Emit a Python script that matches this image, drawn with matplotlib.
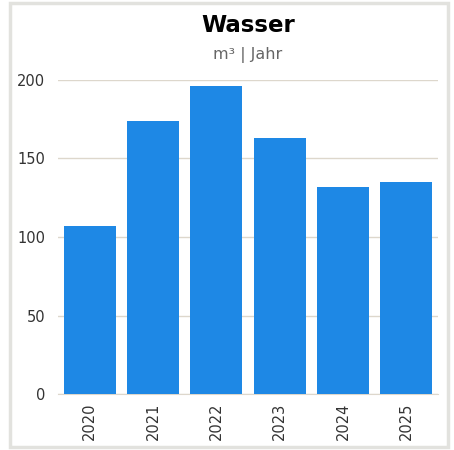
import matplotlib.pyplot as plt
from matplotlib.patches import Rectangle

years = ['2020', '2021', '2022', '2023', '2024', '2025']
water = [107, 174, 196, 163, 132, 135]
yticks = [0, 50, 100, 150, 200]

fig = plt.figure(figsize=(4.54, 4.50), dpi=100)

# light grey frame round the card
fig.patches.append(Rectangle((10/454, 3/450), 438/454, 444/450, transform=fig.transFigure,
                             fill=False, edgecolor='#e2e2de', linewidth=2.5))

ax = fig.add_axes([58/454, 1 - 394/450, 380/454, 314/450])
ax.bar(range(len(years)), water, width=0.82, color='#1e88e5', zorder=3)
ax.set_xlim(-0.5, len(years) - 0.5)
ax.set_ylim(0, 200)
ax.set_yticks(yticks)
ax.set_xticks(range(len(years)))
ax.set_xticklabels(years, rotation=90)
ax.yaxis.grid(True, color='#ddd7cc', linewidth=1, zorder=0)
for s in ['left', 'right', 'top']:
    ax.spines[s].set_visible(False)
ax.spines['bottom'].set_color('#ddd7cc')
ax.tick_params(axis='both', length=0, labelsize=10.5, colors='#333333')
ax.tick_params(axis='y', pad=9)
ax.tick_params(axis='x', pad=6)

fig.text(248/454, 1 - 25/450, 'Wasser', ha='center', va='center',
         fontsize=16.5, fontweight='bold', color='black')
fig.text(248/454, 1 - 55/450, 'm³ | Jahr', ha='center', va='center',
         fontsize=11.5, color='#666666')

fig.savefig('out.png', dpi=100)
